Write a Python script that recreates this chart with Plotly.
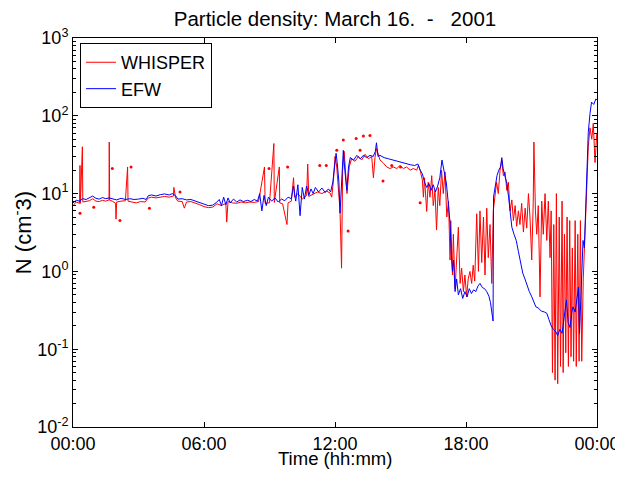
import plotly.graph_objects as go

# ---------------- data (hours of day, density cm^-3) ----------------
efw_hours = [
    0.0, 0.15, 0.3, 0.45, 0.6, 0.75, 0.9, 1.05, 1.2, 1.35, 1.5, 1.65, 1.8, 2.0, 2.2, 2.4, 2.6, 2.8,
    3.0, 3.2, 3.35, 3.45, 3.6, 3.8, 4.0, 4.2, 4.4, 4.55, 4.7, 4.8, 5.0, 5.2, 5.4, 5.6, 5.8, 6.0,
    6.2, 6.4, 6.55, 6.7, 6.8, 6.9, 7.0, 7.1, 7.2, 7.35, 7.5, 7.65, 7.8, 8.0, 8.15, 8.3, 8.45, 8.55,
    8.65, 8.75, 8.85, 8.95, 9.1, 9.25, 9.4, 9.55, 9.7, 9.85, 10.0, 10.1, 10.2, 10.3, 10.4, 10.5,
    10.6, 10.7, 10.8, 10.9, 11.0, 11.1, 11.25, 11.4, 11.55, 11.7, 11.8, 11.9, 12.0, 12.05,
    12.1, 12.18, 12.23, 12.3, 12.38, 12.45, 12.54, 12.62, 12.7, 12.85, 13.0, 13.15, 13.3, 13.45,
    13.6, 13.75, 13.85, 13.9, 13.97, 14.06, 14.25, 14.45, 14.65, 14.85, 15.05, 15.25, 15.45,
    15.65, 15.8, 15.9, 16.0, 16.1, 16.2, 16.3, 16.4, 16.5, 16.6, 16.7, 16.8, 16.9, 17.0, 17.1,
    17.2, 17.27, 17.33, 17.38, 17.43, 17.5, 17.57, 17.65, 17.75, 17.85, 17.95, 18.05, 18.15,
    18.25, 18.35, 18.45, 18.55, 18.64, 18.75, 18.85, 18.95, 19.05, 19.12, 19.2, 19.24, 19.26,
    19.33, 19.42, 19.5, 19.58, 19.64, 19.7, 19.8, 19.87, 19.95, 20.02, 20.1, 20.2, 20.3, 20.4,
    20.47, 20.55, 20.6, 20.7, 20.8, 20.9, 21.0, 21.1, 21.2, 21.3, 21.45, 21.6, 21.7, 21.8, 21.9,
    22.0, 22.1, 22.2, 22.3, 22.4, 22.5, 22.6, 22.68, 22.76, 22.85, 22.9, 23.0, 23.08, 23.15,
    23.2, 23.26, 23.3, 23.36, 23.42, 23.5, 23.6, 23.68, 23.75, 23.85, 23.95, 24.0,
]
efw_density = [
    7.6, 8.2, 8.0, 8.6, 8.4, 8.8, 9.3, 8.7, 8.5, 8.9, 8.6, 8.8, 8.5, 8.3, 8.7, 8.4, 8.6, 8.4,
    8.5, 8.7, 8.4, 9.4, 9.6, 9.3, 9.7, 9.9, 9.6, 10.0, 9.4, 8.5, 8.6, 8.3, 8.4, 8.0, 7.6, 7.2,
    7.0, 7.1, 7.6, 8.4, 7.0, 9.0, 7.2, 8.8, 7.6, 8.5, 7.8, 8.3, 7.9, 8.2, 7.9, 8.4, 8.0, 10.0,
    6.0, 9.5, 7.0, 9.0, 8.0, 8.8, 7.8, 8.5, 8.1, 9.0, 8.6, 12.5, 8.0, 13.0, 5.2, 12.0,
    8.5, 12.5, 9.5, 11.5, 10.0, 12.0, 10.5, 11.8, 10.3, 11.5, 10.5, 14.0, 28.0, 33.0,
    25.0, 14.0, 5.6, 15.0, 36.0, 20.0, 11.0, 22.0, 29.0, 27.0, 31.0, 28.0, 31.0, 29.0,
    31.0, 30.0, 35.0, 45.0, 30.0, 31.0, 29.0, 28.0, 27.0, 26.0, 25.0, 24.5, 23.5,
    23.0, 24.0, 20.0, 18.0, 14.0, 12.0, 13.5, 11.0, 13.0, 10.5, 12.5, 16.0, 27.0, 20.0, 13.7,
    7.0, 4.2, 1.6, 1.0, 1.4, 0.55, 0.8, 0.5, 0.6, 0.45, 0.55, 0.47, 0.6,
    0.52, 0.58, 0.55, 0.65, 0.7, 0.62, 0.6, 0.55, 0.48, 0.4, 0.26, 0.23, 9.0,
    12.0, 17.0, 20.0, 22.0, 29.0, 21.0, 16.0, 13.6, 9.0, 5.5, 3.7, 3.0, 2.5, 1.8,
    1.4, 1.1, 0.95, 0.8, 0.65, 0.55, 0.48, 0.4, 0.35, 0.34, 0.31, 0.3, 0.29, 0.24, 0.2,
    0.18, 0.17, 0.15, 0.18, 0.16, 0.25, 0.43, 0.22, 0.19, 0.3, 0.35, 0.3, 0.45, 0.63,
    0.16, 0.5, 1.05, 2.5, 2.0, 12.0, 61.0, 107.0, 150.0, 140.0, 165.0, 160.0,
]

whisper_hours = [
    0.0, 0.15, 0.3, 0.32, 0.34, 0.43, 0.45, 0.6, 0.75, 0.9, 1.05, 1.2, 1.35, 1.5, 1.65, 1.66,
    1.68, 1.8, 1.95, 1.97, 2.0, 2.2, 2.4, 2.5, 2.52, 2.7, 2.9, 3.1, 3.3, 3.45, 3.6, 3.8, 4.0,
    4.2, 4.4, 4.6, 4.62, 4.7, 4.8, 5.0, 5.1, 5.2, 5.4, 5.6, 5.8, 6.0, 6.2, 6.4, 6.6, 6.8, 7.0,
    7.04, 7.1, 7.3, 7.5, 7.7, 7.9, 8.1, 8.3, 8.5, 8.77, 8.8, 9.0, 9.2, 9.22, 9.45, 9.47, 9.6,
    9.8, 9.85, 10.0, 10.1, 10.15, 10.3, 10.5, 10.7, 10.75, 10.8, 11.0, 11.2, 11.4, 11.6, 11.77,
    11.85, 11.93, 12.0, 12.08, 12.15, 12.23, 12.3, 12.35, 12.42, 12.5, 12.55, 12.65, 12.76,
    12.92, 13.07, 13.22, 13.38, 13.53, 13.68, 13.76, 13.83, 13.9, 14.06, 14.2, 14.37, 14.52,
    14.67, 14.83, 14.98, 15.13, 15.28, 15.44, 15.59, 15.74, 15.82, 15.9, 16.0, 16.05, 16.1,
    16.2, 16.27, 16.35, 16.43, 16.5, 16.58, 16.65, 16.73, 16.8, 16.88, 16.96, 17.04, 17.12,
    17.2, 17.27, 17.3, 17.38, 17.42, 17.5, 17.57, 17.65, 17.73, 17.8, 17.88, 17.95, 18.03,
    18.1, 18.18, 18.26, 18.33, 18.4, 18.49, 18.57, 18.64, 18.72, 18.8, 18.87, 18.95, 19.02,
    19.1, 19.18, 19.25, 19.33, 19.4, 19.48, 19.56, 19.64, 19.71, 19.79, 19.87, 19.94, 20.02,
    20.1, 20.17, 20.25, 20.32, 20.4, 20.47, 20.55, 20.63, 20.71, 20.78, 20.86, 20.93, 21.01,
    21.08, 21.11, 21.18, 21.24, 21.31, 21.39, 21.47, 21.54, 21.62, 21.7, 21.77, 21.85, 21.9,
    21.96, 22.02, 22.08, 22.14, 22.2, 22.27, 22.33, 22.4, 22.45, 22.51, 22.57, 22.63, 22.69,
    22.75, 22.81, 22.87, 22.93, 23.0, 23.05, 23.12, 23.18, 23.24, 23.3, 23.37, 23.45, 23.53,
    23.6, 23.68, 23.76, 23.83, 23.91, 23.99,
]
whisper_density = [
    7.0, 7.8, 7.5, 23.0, 7.5, 40.0, 7.8, 8.0, 8.1, 8.6, 8.0, 7.9, 8.2, 8.0, 8.3, 46.0,
    8.2, 8.0, 7.5, 4.7, 7.8, 8.0, 8.1, 22.0, 8.0, 7.8, 7.6, 7.9, 7.8, 8.8, 9.0, 8.8, 9.1,
    9.2, 9.0, 9.3, 12.0, 8.8, 8.0, 7.9, 6.5, 7.8, 7.9, 7.6, 7.2, 6.8, 6.6, 6.7, 7.4, 7.0, 7.5,
    4.3, 7.9, 7.6, 7.5, 7.8, 7.6, 7.8, 7.7, 7.9, 22.0, 7.5, 7.6, 44.0, 7.7, 22.0, 7.6, 7.4,
    4.0, 7.6, 8.0, 16.0, 9.0, 10.0, 8.5, 9.5, 24.0, 9.2, 9.8, 10.5, 10.0, 10.8, 10.2,
    9.0, 15.0, 30.0, 22.0, 12.0, 6.0, 1.1, 20.0, 35.0, 14.0, 10.0, 22.0, 28.0,
    26.0, 30.0, 27.0, 32.0, 28.0, 30.0, 16.0, 29.0, 38.0, 27.0, 25.0, 22.0, 21.0,
    22.0, 21.0, 23.0, 21.0, 22.0, 20.0, 21.0, 20.0, 23.0, 20.0, 15.0, 9.0, 16.0,
    5.9, 14.0, 9.0, 17.0, 7.0, 11.0, 3.4, 12.0, 7.0, 20.0, 10.0, 19.0, 5.0,
    8.0, 1.4, 4.5, 0.9, 3.0, 0.6, 1.4, 3.7, 0.7, 1.1, 0.55, 0.9, 0.47,
    0.8, 1.0, 0.7, 1.2, 0.75, 5.5, 1.0, 6.0, 1.3, 5.0, 0.9, 6.5, 1.5,
    4.0, 0.7, 6.0, 10.0, 14.0, 10.0, 20.0, 27.0, 17.0, 19.0, 11.0, 14.0, 6.0,
    8.3, 4.5, 7.0, 3.8, 6.0, 4.0, 7.5, 3.2, 6.5, 3.6, 10.0, 5.0, 1.4,
    8.0, 46.0, 6.0, 3.0, 7.0, 0.47, 8.0, 3.0, 10.0, 2.5, 8.0, 1.5, 6.0,
    0.05, 4.0, 0.04, 10.0, 0.036, 5.0, 0.06, 8.0, 0.05, 3.0, 0.09, 5.0, 0.06,
    4.5, 0.08, 2.0, 0.07, 4.5, 0.06, 3.0, 0.07, 4.5, 0.07, 0.8, 3.0, 14.0,
    40.0, 70.0, 50.0, 80.0, 25.0, 60.0,
]

whisper_dot_hours = [0.32, 0.95, 1.8, 2.15, 2.66, 3.5, 4.9, 8.98, 9.83, 11.3, 11.6, 12.08,
                     12.38, 12.6, 12.97, 13.15, 13.3, 13.6, 14.2, 14.6, 15.0, 15.9]
whisper_dot_density = [5.6, 6.7, 21.0, 4.5, 22.0, 6.5, 10.5, 21.0, 22.0, 23.0, 23.0, 36.0,
                       49.0, 3.3, 51.0, 36.0, 55.0, 56.0, 14.5, 23.0, 22.0, 7.6]

x_tick_hours = [0, 6, 12, 18, 24]
x_tick_labels = ["00:00", "06:00", "12:00", "18:00", "00:00"]
y_tick_values = [0.01, 0.1, 1, 10, 100, 1000]
y_tick_labels = ["10<sup>-2</sup>", "10<sup>-1</sup>", "10<sup>0</sup>",
                 "10<sup>1</sup>", "10<sup>2</sup>", "10<sup>3</sup>"]
y_minor_values = [m * 10.0 ** e for e in range(-2, 3) for m in range(2, 10)]

FONT = "Liberation Sans, Arial, sans-serif"

# the page body adds an 8px margin on every side, so keep the figure inside the window
FIG_W, FIG_H = 607, 461

fig = go.Figure()
fig.add_trace(go.Scatter(x=whisper_hours, y=whisper_density, mode="lines", name="WHISPER",
                         line=dict(color="#ff0000", width=1)))
fig.add_trace(go.Scatter(x=whisper_dot_hours, y=whisper_dot_density, mode="markers",
                         showlegend=False, marker=dict(color="#ff0000", size=3)))
fig.add_trace(go.Scatter(x=efw_hours, y=efw_density, mode="lines", name="EFW",
                         line=dict(color="#0000ff", width=1)))

fig.update_layout(
    width=FIG_W, height=FIG_H,
    margin=dict(l=65, r=18, t=30, b=42, autoexpand=False),
    paper_bgcolor="white", plot_bgcolor="white",
    font=dict(family=FONT, size=18, color="black"),
    title=dict(text="Particle density: March 16.\u00a0\u00a0-\u00a0\u00a0\u00a02001",
               x=0.5, xref="paper", xanchor="center",
               y=1 - 11 / FIG_H, yanchor="middle", font=dict(size=20.5, color="black")),
    legend=dict(x=0.0134, y=0.987, xanchor="left", yanchor="top",
                bgcolor="white", bordercolor="black", borderwidth=1,
                font=dict(size=18), tracegroupgap=0),
    annotations=[dict(text="Time (hh:mm)", x=0.5, xref="paper", xanchor="center",
                      y=-32 / 389, yref="paper", yanchor="middle", showarrow=False,
                      font=dict(size=18.5, color="black"))],
)
fig.update_xaxes(
    range=[0, 24], tickvals=x_tick_hours, ticktext=x_tick_labels, automargin=False,
    ticklabeloverflow="allow",
    ticks="inside", ticklen=5, tickcolor="black", showline=True, linecolor="black",
    linewidth=1, mirror="ticks", showgrid=False, zeroline=False,
)
fig.update_yaxes(
    type="log", range=[-2, 3], tickvals=y_tick_values, ticktext=y_tick_labels,
    automargin=False,
    ticks="inside", ticklen=5, tickcolor="black", showline=True, linecolor="black",
    linewidth=1, mirror="ticks", showgrid=False, zeroline=False,
    minor=dict(tickvals=y_minor_values, ticks="inside", ticklen=3, tickcolor="black",
               showgrid=False),
    title=dict(text="N (cm<sup>-</sup>3)", standoff=15),
)

fig.write_html("out.html")
